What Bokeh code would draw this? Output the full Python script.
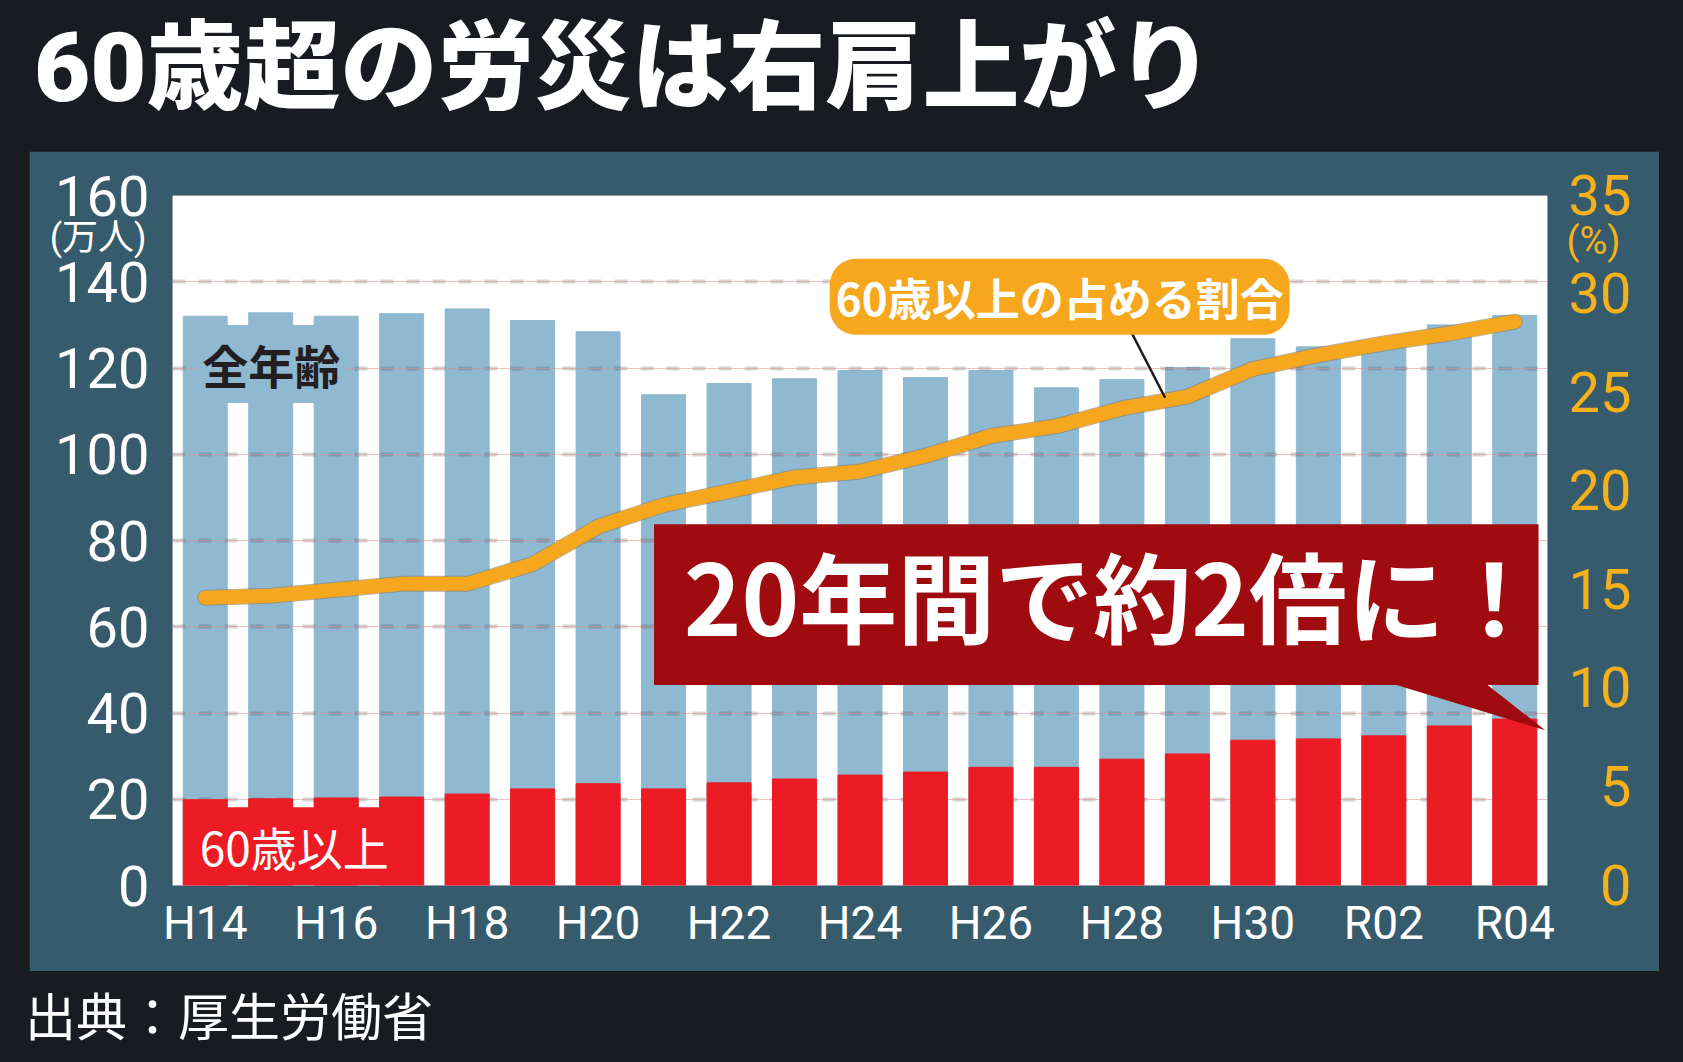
from bokeh.plotting import figure
from bokeh.models import Range1d, LinearAxis, FixedTicker, Label, PolyAnnotation, Arrow, Div
from bokeh.layouts import column, row
from bokeh.embed import file_html
from bokeh.resources import INLINE

# ---------------- data ----------------
years = ["H14", "H15", "H16", "H17", "H18", "H19", "H20", "H21", "H22", "H23", "H24",
         "H25", "H26", "H27", "H28", "H29", "H30", "R01", "R02", "R03", "R04"]
all_ages = [132.0, 132.8, 132.0, 132.6, 133.7, 131.0, 128.4, 113.8, 116.4, 117.5, 119.4,
            117.8, 119.4, 115.4, 117.3, 120.1, 126.8, 124.9, 126.4, 130.0, 132.2]
over60 = [19.9, 20.1, 20.3, 20.5, 21.2, 22.4, 23.6, 22.4, 23.8, 24.7, 25.6,
          26.3, 27.4, 27.4, 29.3, 30.5, 33.7, 34.0, 34.7, 37.0, 38.6]
share = [14.6, 14.7, 15.0, 15.3, 15.3, 16.3, 18.2, 19.3, 20.0, 20.7, 21.0,
         21.8, 22.8, 23.3, 24.2, 24.8, 26.2, 26.9, 27.5, 28.0, 28.6]
left_ticks = [0, 20, 40, 60, 80, 100, 120, 140, 160]
right_ticks = [0, 5, 10, 15, 20, 25, 30, 35]
x_tick_idx = list(range(0, len(years), 2))
x_tick_labels = [years[i] for i in x_tick_idx]
idx = list(range(len(years)))
left_unit = "(万人)"
right_unit = "(%)"

title_text = "60歳超の労災は右肩上がり"
source_text = "出典：厚生労働省"
callout_text = "20年間で約2倍に！"

# ---------------- style ----------------
DARK = "#181c20"
TEAL = "#365b6c"
BLUE = "#8fb9d0"
RED = "#ed1c24"
ORANGE = "#f7a71e"
AXIS_ORANGE = "#f5b01a"
CALLOUT = "#a00b10"
NUM_FONT = "Roboto"
JP_FONT = "Noto Sans CJK JP"
MIX_FONT = "Roboto, Noto Sans CJK JP"

p = figure(width=1630, height=820,
           x_range=Range1d(-0.5, len(years) - 0.5), y_range=Range1d(0, 160),
           output_backend="svg", toolbar_location=None, tools="",
           min_border_left=143, min_border_right=112, min_border_top=44, min_border_bottom=86,
           background_fill_color="white", border_fill_color=TEAL, outline_line_color=None)
p.extra_y_ranges = {"pct": Range1d(0, 35)}
p.xgrid.visible = False
p.ygrid.visible = False

right_ax = LinearAxis(y_range_name="pct")
p.add_layout(right_ax, "right")
# unit captions are carried by outer axes with a single tick each
left_unit_ax = LinearAxis()
p.add_layout(left_unit_ax, "left")
right_unit_ax = LinearAxis(y_range_name="pct")
p.add_layout(right_unit_ax, "right")

for ax in (p.xaxis[0], p.yaxis[0], right_ax, left_unit_ax, right_unit_ax):
    ax.axis_line_color = None
    ax.major_tick_line_color = None
    ax.minor_tick_line_color = None
    ax.major_tick_in = 0
    ax.major_tick_out = 0
    ax.minor_tick_in = 0
    ax.minor_tick_out = 0
    ax.major_label_text_font = NUM_FONT

p.yaxis[0].ticker = FixedTicker(ticks=left_ticks)
p.yaxis[0].major_label_text_font_size = "56px"
p.yaxis[0].major_label_text_color = "white"
p.yaxis[0].major_label_standoff = 23

left_unit_ax.ticker = FixedTicker(ticks=[150.2])
left_unit_ax.major_label_overrides = {150.2: left_unit}
left_unit_ax.major_label_text_font = MIX_FONT
left_unit_ax.major_label_text_font_size = "36px"
left_unit_ax.major_label_text_color = "white"
left_unit_ax.major_label_standoff = -94

right_ax.ticker = FixedTicker(ticks=right_ticks)
right_ax.major_label_text_font_size = "56px"
right_ax.major_label_text_color = AXIS_ORANGE
right_ax.major_label_standoff = 21
right_ax.major_label_overrides = {t: ("\u2007" + str(t) if t < 10 else str(t)) for t in right_ticks}

right_unit_ax.ticker = FixedTicker(ticks=[32.7])
right_unit_ax.major_label_overrides = {32.7: right_unit}
right_unit_ax.major_label_text_font_size = "38px"
right_unit_ax.major_label_text_color = AXIS_ORANGE
right_unit_ax.major_label_standoff = -68

p.xaxis[0].ticker = FixedTicker(ticks=x_tick_idx)
p.xaxis[0].major_label_overrides = {i: lab for i, lab in zip(x_tick_idx, x_tick_labels)}
p.xaxis[0].major_label_text_font_size = "46px"
p.xaxis[0].major_label_text_color = "white"
p.xaxis[0].major_label_standoff = 10

# bars, grid, line
p.vbar(x=idx, top=all_ages, width=0.672, color=BLUE)
grid_vals = left_ticks[1:-1]
p.hspan(y=grid_vals, line_color="#3c3c3c", line_alpha=0.22, line_width=4, line_dash="13 13")
p.hspan(y=grid_vals, line_color="#e08c8c", line_alpha=0.55, line_width=1)
p.vbar(x=idx, top=over60, width=0.672, color=RED)
p.line(x=idx, y=share, y_range_name="pct", line_width=16, line_color="#8c7c60",
       line_alpha=0.6, line_cap="round", line_join="round")
p.line(x=idx, y=share, y_range_name="pct", line_width=14, line_color=ORANGE,
       line_cap="round", line_join="round")

# annotations
p.add_layout(Arrow(end=None, x_start=14.07, y_start=130.5, x_end=14.66, y_end=113.1,
                   line_color="#1a1a1a", line_width=2.5))
p.add_layout(Label(x=13.05, y=136.5, text="60歳以上の占める割合", text_font=JP_FONT,
                   text_font_style="bold", text_font_size="44px", text_color="white",
                   text_align="center", text_baseline="middle",
                   background_fill_color=ORANGE, padding=6, border_radius=26))
p.add_layout(Label(x=1.01, y=120.9, text="全年齢", text_font=JP_FONT,
                   text_font_style="bold", text_font_size="46px", text_color="#231f20",
                   text_align="center", text_baseline="middle",
                   background_fill_color=BLUE, padding=6, border_radius=16))
p.add_layout(Label(x=1.36, y=9.13, text="60歳以上", text_font=JP_FONT,
                   text_font_size="46px", text_color="white",
                   text_align="center", text_baseline="middle",
                   background_fill_color=RED, padding=6, border_radius=16))

p.add_layout(PolyAnnotation(
    xs=[6.854, 20.363, 20.363, 19.584, 20.466, 18.194, 6.854],
    ys=[83.78, 83.78, 46.49, 46.49, 36.0, 46.49, 46.49],
    fill_color=CALLOUT, fill_alpha=1.0, line_color=None))
p.add_layout(Label(x=13.87, y=67.9, text=callout_text, text_font=JP_FONT,
                   text_font_style="bold", text_font_size="98px", text_color="white",
                   text_align="center", text_baseline="middle"))

title_div = Div(
    text=('<div style="font-family:Roboto,\'Noto Sans CJK JP\';font-weight:900;font-size:97px;'
          'line-height:114px;color:#ffffff;padding:6px 0 0 29px;white-space:nowrap;">'
          + title_text + '</div>'),
    width=1667, height=141)
footer_div = Div(
    text=('<div style="font-family:Roboto,\'Noto Sans CJK JP\';font-weight:400;font-size:51px;'
          'line-height:60px;color:#ffffff;padding:3px 0 0 20px;white-space:nowrap;">'
          + source_text + '</div>'),
    width=1667, height=85)
left_pad = Div(text="", width=19, height=820)
right_pad = Div(text="", width=18, height=820)

layout = column(title_div,
                row(left_pad, p, right_pad),
                footer_div,
                styles={"background-color": DARK})

TEMPLATE = "{% block postamble %}<style>html, body { background-color: #181c20; }</style>{% endblock %}"
open("out.html", "w").write(file_html(layout, INLINE, template=TEMPLATE))
